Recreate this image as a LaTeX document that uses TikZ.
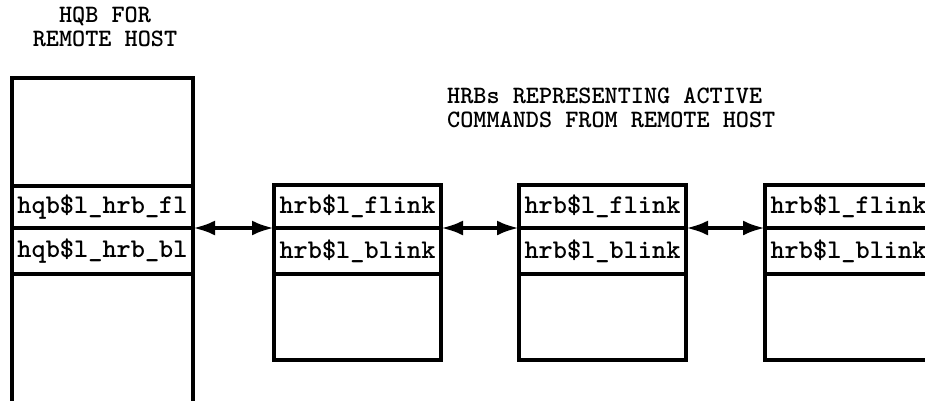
\documentclass[tikz,border=0pt]{standalone}
\usepackage{fontspec}
\usetikzlibrary{arrows.meta,positioning}

\begin{document}
\begin{tikzpicture}[x=1pt, y=-1pt,
  field/.style={draw, line width=4.5pt, rectangle, inner sep=0pt, outer sep=0pt,
    minimum width=167pt, minimum height=44pt,
    font=\ttfamily\bfseries\fontsize{27}{27}\selectfont},
  hqbfield/.style={field, minimum width=181pt},
  caption/.style={font=\ttfamily\bfseries\fontsize{25}{24}\selectfont, inner sep=0pt},
  link/.style={line width=4pt, {Latex[length=22pt,width=15pt]}-{Latex[length=22pt,width=15pt]}}]

  % --- Frame ---
  \useasboundingbox (0,0) rectangle (925,400);
  \clip (0,0) rectangle (925,400);

  % --- Captions ---
  \node[caption, align=center] (hqbcap) at (105,27) {HQB FOR\\REMOTE HOST};
  \node[caption, align=left, anchor=west] (hrbcap) at (447,108)
    {HRBs REPRESENTING ACTIVE\\COMMANDS FROM REMOTE HOST};

  % --- HQB ---
  \node[hqbfield, anchor=north west, minimum height=108pt] (hqbtop) at (12,78) {};
  \node[hqbfield, below=0pt of hqbtop, minimum height=42pt] (hqbfl) {hqb\$l\_hrb\_fl};
  \node[hqbfield, below=0pt of hqbfl, minimum height=46pt] (hqbbl) {hqb\$l\_hrb\_bl};
  \node[hqbfield, below=0pt of hqbbl, minimum height=160pt] (hqbbot) {};

  % --- HRBs ---
  \foreach \i/\x in {1/274, 2/519, 3/765} {
    \node[field, anchor=north west, minimum height=43pt] (fl\i) at (\x,185) {hrb\$l\_flink};
    \node[field, below=0pt of fl\i, minimum height=46pt] (bl\i) {hrb\$l\_blink};
    \node[field, below=0pt of bl\i, minimum height=86pt] (rest\i) {};
  }

  % --- Links ---
  \draw[link] (hqbfl.south east) -- (fl1.south west);
  \draw[link] (fl1.south east) -- (fl2.south west);
  \draw[link] (fl2.south east) -- (fl3.south west);

\end{tikzpicture}
\end{document}
